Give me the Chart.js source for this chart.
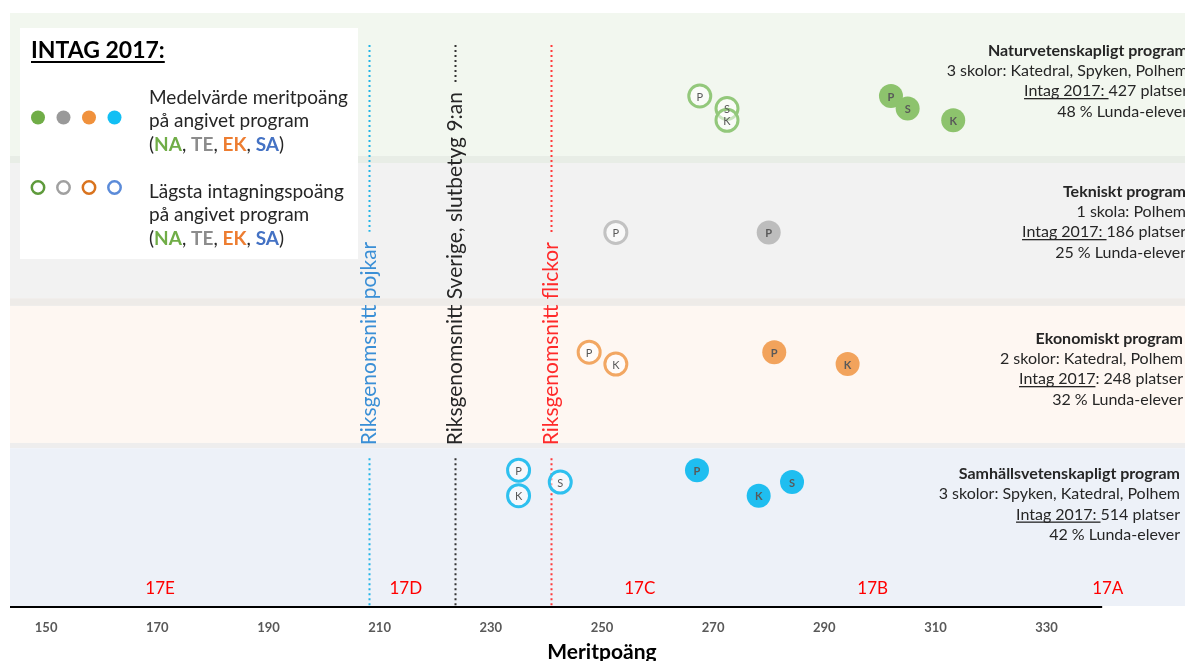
<!DOCTYPE html>
<html>
<head>
<meta charset="utf-8">
<script src="https://cdn.jsdelivr.net/npm/chart.js@4.4.1/dist/chart.umd.min.js"></script>
<style>
  body { margin: 0; background: #fff; overflow: hidden; }
  #wrap { width: 1185px; height: 661px; }
  canvas { display: block; }
</style>
</head>
<body>
<div id="wrap"><canvas id="intagChart" width="1185" height="661"></canvas></div>
<script>
// x = meritpoäng, y = row height inside the program bands (0-100)
var xTicks = [150, 170, 190, 210, 230, 250, 270, 290, 310, 330];
var axisEnd = 340;

var naSchools = ['P', 'S', 'K'];
var naMedel = [302.0, 305.0, 313.2];
var naLagsta = [267.6, 272.5, 272.5];
var naRow = [86.0, 83.9, 81.9];

var teSchools = ['P'];
var teMedel = [280.0];
var teLagsta = [252.5];
var teRow = [63.0];

var ekSchools = ['P', 'K'];
var ekMedel = [281.0, 294.2];
var ekLagsta = [247.7, 252.5];
var ekRow = [42.8, 40.8];

var saSchools = ['P', 'K', 'S'];
var saMedel = [267.1, 278.2, 284.2];
var saLagsta = [235.0, 235.0, 242.5];
var saRow = [22.9, 18.6, 20.9];

var riksLabels = ['Riksgenomsnitt pojkar', 'Riksgenomsnitt Sverige, slutbetyg 9:an', 'Riksgenomsnitt flickor'];
var riksValues = [208.1, 223.6, 240.8];

var gradeLabels = ['17E', '17D', '17C', '17B', '17A'];
var gradePos = [170.5, 214.7, 256.8, 298.7, 341.0];

var bandTop = [100, 74.7, 50.6, 26.6];
var bandBottom = [75.9, 51.9, 27.5, 0];

var programTitles = ['Naturvetenskapligt program', 'Tekniskt program', 'Ekonomiskt program', 'Samhällsvetenskapligt program'];
var programSchools = ['3 skolor: Katedral, Spyken, Polhem', '1 skola: Polhem', '2 skolor: Katedral, Polhem', '3 skolor: Spyken, Katedral, Polhem'];
var programIntag = ['Intag 2017: ', 'Intag 2017: ', 'Intag 2017', 'Intag 2017: '];
var programPlatser = ['427 platser', '186 platser', ': 248 platser', '514 platser'];
var programLunda = ['48 % Lunda-elever', '25 % Lunda-elever', '32 % Lunda-elever', '42 % Lunda-elever'];

// styling
var FONT = 'Lato, "Open Sans", sans-serif';
var bandColors = ['#F2F7EF', '#F2F2F2', '#FEF7F2', '#EDF1F8'];
var sepColors = ['#E8EDE6', '#EEEBE8', '#EEEDED'];
var fillColors = ['#8DC36D', '#BDBDBD', '#F2A35C', '#1FBEF0'];
var ringColors = ['#93C87B', '#C2C2C2', '#F2A763', '#2EC0EF'];
var riksColors = ['#22B5E8', '#333333', '#FF3B3B'];
var riksTextColors = ['#3A8FD6', '#262626', '#FF2A2A'];
var codeColors = ['#70AD47', '#8C8C8C', '#ED7D31', '#4472C4'];

function pts(xs, ys) {
    return xs.map(function (v, i) { return { x: v, y: ys[i] }; });
}

function markerSet(xs, ys, schools, idx, filled) {
    return {
        data: pts(xs, ys),
        schools: schools,
        filled: filled,
        pointRadius: filled ? 12 : 11,
        pointHoverRadius: filled ? 12 : 11,
        pointBackgroundColor: filled ? fillColors[idx] : 'rgba(255,255,255,0.5)',
        pointBorderColor: filled ? fillColors[idx] : ringColors[idx],
        pointBorderWidth: filled ? 0 : 3,
        showLine: false
    };
}

function colouredLine(ctx, x, y, parts) {
    parts.forEach(function (p) {
        ctx.font = (p[2] ? 'bold ' : '') + '19px ' + FONT;
        ctx.fillStyle = p[1];
        ctx.fillText(p[0], x, y);
        x += ctx.measureText(p[0]).width;
    });
}

var decorPlugin = {
    id: 'decor',
    beforeDatasetsDraw: function (chart) {
        var ctx = chart.ctx, xs = chart.scales.x, ys = chart.scales.y, a = chart.chartArea;
        ctx.save();
        // program bands
        for (var i = 0; i < bandTop.length; i++) {
            var t = ys.getPixelForValue(bandTop[i]);
            var b = ys.getPixelForValue(bandBottom[i]);
            ctx.fillStyle = bandColors[i];
            ctx.fillRect(a.left, t, a.right - a.left, b - t);
            if (i < sepColors.length) {
                var n = ys.getPixelForValue(bandTop[i + 1]);
                ctx.fillStyle = sepColors[i];
                ctx.fillRect(a.left, b, a.right - a.left, n - b);
            }
        }
        // national averages, dotted with rotated labels
        var textBottom = ys.getPixelForValue(27.1);
        var lineTop = ys.getPixelForValue(94.6);
        ctx.font = '21px ' + FONT;
        riksValues.forEach(function (v, i) {
            var px = Math.round(xs.getPixelForValue(v)) + 0.5;
            var w = ctx.measureText(riksLabels[i]).width;
            ctx.strokeStyle = riksColors[i];
            ctx.lineWidth = 2;
            ctx.setLineDash([2, 3]);
            ctx.beginPath();
            ctx.moveTo(px, lineTop);
            ctx.lineTo(px, textBottom - w - 10);
            ctx.moveTo(px, textBottom + 13);
            ctx.lineTo(px, a.bottom);
            ctx.stroke();
            ctx.setLineDash([]);
            ctx.save();
            ctx.translate(px, textBottom);
            ctx.rotate(-Math.PI / 2);
            ctx.fillStyle = riksTextColors[i];
            ctx.textAlign = 'left';
            ctx.textBaseline = 'middle';
            ctx.fillText(riksLabels[i], 0, 0);
            ctx.restore();
        });
        ctx.restore();
    },
    afterDatasetsDraw: function (chart) {
        var ctx = chart.ctx, xs = chart.scales.x, ys = chart.scales.y, a = chart.chartArea;
        ctx.save();
        // school letters in the markers
        chart.data.datasets.forEach(function (ds, di) {
            var meta = chart.getDatasetMeta(di);
            ctx.font = (ds.filled ? 'bold ' : '') + '11px ' + FONT;
            ctx.fillStyle = '#595959';
            ctx.textAlign = 'center';
            ctx.textBaseline = 'middle';
            meta.data.forEach(function (el, k) {
                ctx.fillText(ds.schools[k], el.x, el.y + 1);
            });
        });

        // x axis
        ctx.strokeStyle = '#000';
        ctx.lineWidth = 2;
        ctx.beginPath();
        ctx.moveTo(a.left, a.bottom + 1);
        ctx.lineTo(xs.getPixelForValue(axisEnd), a.bottom + 1);
        ctx.stroke();
        ctx.font = 'bold 13px ' + FONT;
        ctx.fillStyle = '#595959';
        ctx.textAlign = 'center';
        ctx.textBaseline = 'middle';
        xTicks.forEach(function (t) {
            ctx.fillText(String(t), xs.getPixelForValue(t), a.bottom + 22);
        });
        ctx.font = 'bold 21px ' + FONT;
        ctx.fillStyle = '#000';
        ctx.textBaseline = 'alphabetic';
        ctx.fillText('Meritpoäng', xs.getPixelForValue(250), a.bottom + 53);

        // grade labels
        ctx.font = '17px ' + FONT;
        ctx.fillStyle = '#FF0000';
        ctx.textBaseline = 'middle';
        gradeLabels.forEach(function (g, i) {
            ctx.fillText(g, xs.getPixelForValue(gradePos[i]), ys.getPixelForValue(3.0));
        });

        // program descriptions on the right
        var titleBase = [55.5, 196.5, 343.5, 479];
        var rightEdge = [1188, 1186, 1183, 1180];
        ctx.textAlign = 'right';
        ctx.textBaseline = 'alphabetic';
        ctx.fillStyle = '#262626';
        programTitles.forEach(function (title, i) {
            var r = rightEdge[i], b = titleBase[i];
            ctx.font = 'bold 16px ' + FONT;
            ctx.fillText(title, r, b);
            ctx.font = '16px ' + FONT;
            ctx.fillText(programSchools[i], r, b + 20);
            ctx.fillText(programPlatser[i], r, b + 40.5);
            var pw = ctx.measureText(programPlatser[i]).width;
            ctx.fillText(programIntag[i], r - pw, b + 40.5);
            var iw = ctx.measureText(programIntag[i]).width;
            ctx.fillRect(r - pw - iw, b + 42.5, iw, 1.3);
            ctx.fillText(programLunda[i], r, b + 61);
        });

        // legend box
        ctx.fillStyle = '#FFFFFF';
        ctx.fillRect(20, 28, 338, 231);
        ctx.textAlign = 'left';
        ctx.fillStyle = '#000';
        ctx.font = 'bold 23px ' + FONT;
        ctx.fillText('INTAG 2017:', 31, 58);
        var tw = ctx.measureText('INTAG 2017:').width;
        ctx.fillRect(31, 61, tw, 2);
        var legendX = [38, 63.5, 89, 114.5];
        legendX.forEach(function (lx, i) {
            ctx.beginPath();
            ctx.arc(lx, 117.5, 7, 0, Math.PI * 2);
            ctx.fillStyle = [codeColors[0], '#999999', '#F0913C', '#12BFF4'][i];
            ctx.fill();
            ctx.beginPath();
            ctx.arc(lx, 187.5, 6.2, 0, Math.PI * 2);
            ctx.lineWidth = 2.5;
            ctx.strokeStyle = ['#5E9A3B', '#A0A0A0', '#D9731E', '#5B8BD9'][i];
            ctx.stroke();
        });
        ctx.fillStyle = '#262626';
        ctx.font = '19px ' + FONT;
        ctx.fillText('Medelvärde meritpoäng', 149, 103.5);
        ctx.fillText('på angivet program', 149, 126.5);
        ctx.fillText('Lägsta intagningspoäng', 149, 197.5);
        ctx.fillText('på angivet program', 149, 221);
        var codeLine = [['(', '#262626', false], ['NA', codeColors[0], true], [', ', '#262626', false],
            ['TE', codeColors[1], true], [', ', '#262626', false], ['EK', codeColors[2], true],
            [', ', '#262626', false], ['SA', codeColors[3], true], [')', '#262626', false]];
        colouredLine(ctx, 149, 150.5, codeLine);
        colouredLine(ctx, 149, 245, codeLine);
        ctx.restore();
    }
};

var ctx = document.getElementById('intagChart').getContext('2d');
var intagChart = new Chart(ctx, {
    type: 'scatter',
    data: {
        datasets: [
            markerSet(naLagsta, naRow, naSchools, 0, false),
            markerSet(naMedel, naRow, naSchools, 0, true),
            markerSet(teLagsta, teRow, teSchools, 1, false),
            markerSet(teMedel, teRow, teSchools, 1, true),
            markerSet(ekLagsta, ekRow, ekSchools, 2, false),
            markerSet(ekMedel, ekRow, ekSchools, 2, true),
            markerSet(saLagsta, saRow, saSchools, 3, false),
            markerSet(saMedel, saRow, saSchools, 3, true)
        ]
    },
    options: {
        responsive: false,
        animation: false,
        layout: {
            autoPadding: false,
            padding: { left: 10, right: 0, top: 13, bottom: 55 }
        },
        scales: {
            x: { type: 'linear', min: 143.5, max: 354.9, display: false },
            y: { type: 'linear', min: 0, max: 100, display: false }
        },
        plugins: {
            legend: { display: false },
            tooltip: { enabled: false }
        }
    },
    plugins: [decorPlugin]
});
</script>
</body>
</html>
